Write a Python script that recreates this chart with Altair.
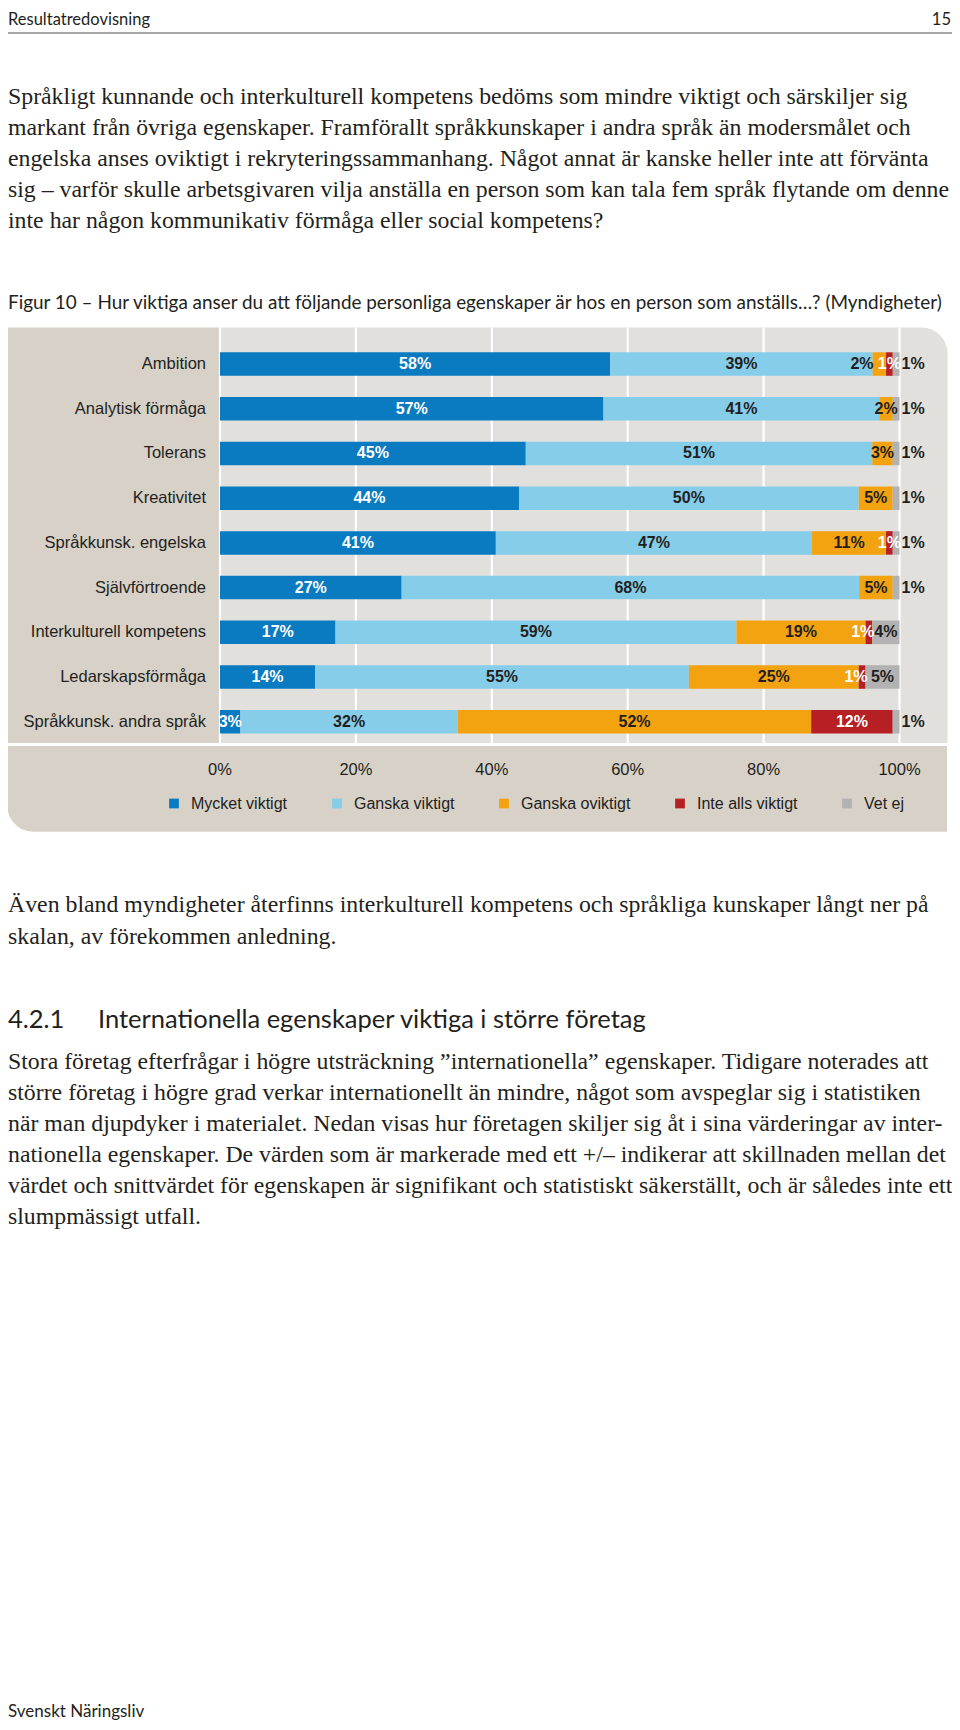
import altair as alt
import pandas as pd

# ---------------- data ----------------
categories = ["Ambition", "Analytisk förmåga", "Tolerans", "Kreativitet",
              "Språkkunsk. engelska", "Självförtroende", "Interkulturell kompetens",
              "Ledarskapsförmåga", "Språkkunsk. andra språk"]
answers = ["Mycket viktigt", "Ganska viktigt", "Ganska oviktigt", "Inte alls viktigt", "Vet ej"]
mycket = [58, 57, 45, 44, 41, 27, 17, 14, 3]
ganska = [39, 41, 51, 50, 47, 68, 59, 55, 32]
oviktigt = [2, 2, 3, 5, 11, 5, 19, 25, 52]
inte_alls = [1, 0, 0, 0, 1, 0, 1, 1, 12]
vet_ej = [1, 1, 1, 1, 1, 1, 4, 5, 1]
colors = ["#0a7bc1", "#86cdea", "#f2a30f", "#b62025", "#b2b2b2"]
tick_values = [0, 20, 40, 60, 80, 100]
tick_labels = ["0%", "20%", "40%", "60%", "80%", "100%"]

header_left = "Resultatredovisning"
header_right = "15"
fig_title = "Figur 10 – Hur viktiga anser du att följande personliga egenskaper är hos en person som anställs…? (Myndigheter)"
para1 = [
    "Språkligt kunnande och interkulturell kompetens bedöms som mindre viktigt och särskiljer sig",
    "markant från övriga egenskaper. Framförallt språkkunskaper i andra språk än modersmålet och",
    "engelska anses oviktigt i rekryteringssammanhang. Något annat är kanske heller inte att förvänta",
    "sig – varför skulle arbetsgivaren vilja anställa en person som kan tala fem språk flytande om denne",
    "inte har någon kommunikativ förmåga eller social kompetens?",
]
para2 = [
    "Även bland myndigheter återfinns interkulturell kompetens och språkliga kunskaper långt ner på",
    "skalan, av förekommen anledning.",
]
heading_num = "4.2.1"
heading_text = "Internationella egenskaper viktiga i större företag"
para3 = [
    "Stora företag efterfrågar i högre utsträckning ”internationella” egenskaper. Tidigare noterades att",
    "större företag i högre grad verkar internationellt än mindre, något som avspeglar sig i statistiken",
    "när man djupdyker i materialet. Nedan visas hur företagen skiljer sig åt i sina värderingar av inter-",
    "nationella egenskaper. De värden som är markerade med ett +/– indikerar att skillnaden mellan det",
    "värdet och snittvärdet för egenskapen är signifikant och statistiskt säkerställt, och är således inte ett",
    "slumpmässigt utfall.",
]
footer = "Svenskt Näringsliv"

series = [mycket, ganska, oviktigt, inte_alls, vet_ej]
rows = []
for ai, (ans, vals) in enumerate(zip(answers, series)):
    for c, v in zip(categories, vals):
        rows.append({"category": c, "answer": ans, "value": v, "ord": ai})
df = pd.DataFrame(rows)
tick_df = pd.DataFrame({"t": tick_values, "lab": tick_labels})
cat_df = pd.DataFrame({"category": categories})
one = pd.DataFrame({"k": [0]})

# ---------------- layout (page px -> chart px: minus 8) ----------------
O = 8
INK = "#231f20"
SANS = "Lato"
SERIF = "Liberation Serif"
CHART_FONT = "Liberation Sans"
BODY = 23.8

def P(v):
    return v - O

xscale = alt.Scale(domain=[0, 1], range=[P(220), P(899.5)], nice=False, zero=False)
yscale = alt.Scale(domain=categories, range=[P(352.3), P(733.5)], paddingInner=0.474, paddingOuter=0)

def txt(s, x, y, size, font, color=INK, align="left", weight="normal"):
    return alt.Chart(one).mark_text(text=s, align=align, baseline="middle", font=font,
                                    fontSize=size, color=color, fontWeight=weight).encode(
        x=alt.value(P(x)), y=alt.value(P(y)))

def box(x1, x2, y1, y2, color, **kw):
    return alt.Chart(one).mark_rect(color=color, **kw).encode(
        x=alt.value(P(x1)), x2=alt.value(P(x2)), y=alt.value(P(y1)), y2=alt.value(P(y2)))

layers = []
# header
layers.append(txt(header_left, 8, 20, 16.5, SANS))
layers.append(txt(header_right, 951, 20, 16.5, SANS, align="right"))
layers.append(alt.Chart(one).mark_rule(color="#8a8a8a", strokeWidth=1.5).encode(
    x=alt.value(P(8)), x2=alt.value(P(955)), y=alt.value(P(33))))

for i, line in enumerate(para1):
    layers.append(txt(line, 8, 96.5 + i * 31.2, BODY, SERIF))

layers.append(txt(fig_title, 8, 303.3, 18.9, SANS))

# panel backgrounds
PANEL_TOP, PLOT_BOTTOM, PANEL_BOTTOM = 327.5, 743, 831.7
layers.append(box(7.3, 219, PANEL_TOP, PLOT_BOTTOM, "#d7d1c8"))
layers.append(box(219, 947.5, PANEL_TOP, PLOT_BOTTOM, "#e1e0dd", cornerRadiusTopRight=26))
layers.append(box(7.3, 947, 746, PANEL_BOTTOM, "#d7d1c8", cornerRadiusBottomLeft=26))

# grid lines
layers.append(alt.Chart(tick_df).transform_calculate(f="datum.t / 100").mark_rule(
    color="white", strokeWidth=2.2).encode(
    x=alt.X("f:Q", scale=xscale, axis=None), y=alt.value(P(PANEL_TOP)), y2=alt.value(P(PLOT_BOTTOM))))

base = alt.Chart(df).transform_calculate(
    redv0="datum.answer == 'Inte alls viktigt' ? datum.value : 0",
    vetv0="datum.answer == 'Vet ej' ? datum.value : 0",
).transform_joinaggregate(
    redv="sum(redv0)", vetv="sum(vetv0)", groupby=["category"]
).transform_stack(
    stack="value", groupby=["category"], as_=["s0", "s1"], offset="normalize",
    sort=[alt.SortField("ord", "ascending")]
).transform_calculate(mid="(datum.s0 + datum.s1) / 2", lab="datum.value + '%'")

bars = base.mark_bar().encode(
    x=alt.X("s0:Q", scale=xscale, axis=None),
    x2="s1:Q",
    y=alt.Y("category:N", scale=yscale, axis=None),
    color=alt.Color("answer:N", scale=alt.Scale(domain=answers, range=colors),
                    legend=alt.Legend(orient="none", legendX=P(166), legendY=P(795.5),
                                      direction="horizontal", title=None, symbolType="square",
                                      symbolSize=95, symbolStrokeWidth=0, labelFont=CHART_FONT,
                                      labelFontSize=16, labelColor=INK, labelOffset=9,
                                      columnPadding=41, padding=0)),
)
layers.append(bars)

lab_kw = dict(baseline="middle", font=CHART_FONT, fontSize=16, fontWeight="bold")
Y = alt.Y("category:N", scale=yscale, axis=None)

def lab_layer(cond, field, color, **kw):
    return base.transform_filter(cond).mark_text(color=color, **lab_kw, **kw).encode(
        x=alt.X(f"{field}:Q", scale=xscale, axis=None), y=Y, text="lab:N")

RED_TIGHT = "(datum.answer == 'Inte alls viktigt' && datum.value <= 1 && datum.vetv >= 3)"
ORG_TIGHT = "(datum.answer == 'Ganska oviktigt' && datum.value <= 2 && datum.redv > 0)"

layers += [
    lab_layer(f"datum.value > 0 && (datum.answer == 'Mycket viktigt' || "
              f"(datum.answer == 'Inte alls viktigt' && !{RED_TIGHT}))", "mid", "white"),
    lab_layer(f"datum.value > 0 && {RED_TIGHT}", "s1", "white", align="right", dx=2),
    lab_layer(f"datum.value > 0 && (datum.answer == 'Ganska viktigt' || "
              f"(datum.answer == 'Ganska oviktigt' && !{ORG_TIGHT}))", "mid", INK),
    lab_layer(f"datum.value > 0 && {ORG_TIGHT}", "s0", INK, align="right", dx=1),
    lab_layer("datum.answer == 'Vet ej' && datum.value >= 3", "mid", INK),
    lab_layer("datum.answer == 'Vet ej' && datum.value < 3", "s1", INK, align="left", dx=2),
]

# category labels
layers.append(alt.Chart(cat_df).mark_text(align="right", baseline="middle", font=CHART_FONT,
                                          fontSize=16.5, color=INK).encode(
    x=alt.value(P(206)), y=Y, text="category:N"))

# x tick labels
layers.append(alt.Chart(tick_df).transform_calculate(f="datum.t / 100").mark_text(
    baseline="middle", font=CHART_FONT, fontSize=16.5, color=INK).encode(
    x=alt.X("f:Q", scale=xscale, axis=None), y=alt.value(P(769.5)), text="lab:N"))

for i, line in enumerate(para2):
    layers.append(txt(line, 8, 905 + i * 31.5, BODY, SERIF))

layers.append(txt(heading_num, 8, 1020, 25.5, SANS))
layers.append(txt(heading_text, 98, 1020, 25.5, SANS))

for i, line in enumerate(para3):
    layers.append(txt(line, 8, 1061.5 + i * 31.1, BODY, SERIF))

layers.append(txt(footer, 8, 1712, 17, SANS))

chart = alt.layer(*layers).properties(
    width=944, height=1714, autosize=alt.AutoSizeParams(type="none"), padding=0,
    background="white"
).configure_view(strokeWidth=0)

chart.save("out.html", embed_options={"renderer": "svg", "actions": False})
